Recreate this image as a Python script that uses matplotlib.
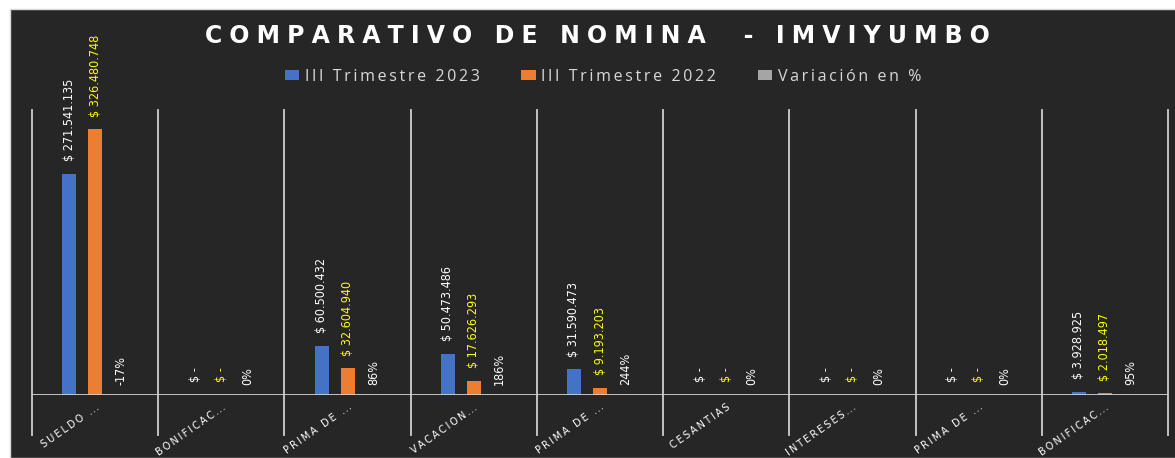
import matplotlib.pyplot as plt
import matplotlib.transforms as mtransforms
from matplotlib.patches import Rectangle
import numpy as np

# data
categorias = ["SUELDO ...", "BONIFICAC...", "PRIMA DE ...", "VACACION...", "PRIMA DE ...",
              "CESANTIAS", "INTERESES...", "PRIMA DE ...", "BONIFICAC..."]
trim_2023 = [271541135, 0, 60500432, 50473486, 31590473, 0, 0, 0, 3928925]
trim_2022 = [326480748, 0, 32604940, 17626293, 9193203, 0, 0, 0, 2018497]
variacion = [-17, 0, 86, 186, 244, 0, 0, 0, 95]
series = ["III Trimestre 2023", "III Trimestre 2022", "Variación en %"]

bg = "#262626"
blue = "#4472C4"
orange = "#ED7D31"
gray = "#A5A5A5"
grid_c = "#CFCFCF"

def spaced(s, sep="\u2009"):
    return sep.join(s)

def cat_label(s):
    # letter spacing on the words, compact dots
    if s.endswith("..."):
        return spaced(s[:-3]) + "\u2009" + "\u200a".join("...")
    return spaced(s)

fig = plt.figure(figsize=(11.75, 4.58), dpi=100)
fig.patch.set_facecolor("white")
fig.patches.append(Rectangle((10 / 1175, 0), 1, 449 / 458, transform=fig.transFigure,
                             facecolor=bg, edgecolor="#D9D9D9", linewidth=1, zorder=-10))

ax = fig.add_axes([32 / 1175, 63 / 458, 1136 / 1175, 285 / 458])
ax.set_facecolor("none")
for s in ax.spines.values():
    s.set_visible(False)

x = np.arange(len(categorias))
off = 0.206
w = 0.111
ax.bar(x - off, trim_2023, w, color=blue, label=spaced(series[0]))
ax.bar(x, trim_2022, w, color=orange, label=spaced(series[1]))
ax.bar(x + off, np.array(variacion) / 100, w, color=gray, label=spaced(series[2]))

ax.set_xlim(-0.5, len(categorias) - 0.5)
ax.set_ylim(0, 350e6)
ax.set_xticks([])
ax.set_yticks([])

def peso(v):
    if v == 0:
        return "$ -"
    return "$ " + f"{v:,}".replace(",", ".")

lab = dict(rotation=90, ha="center", va="bottom", fontsize=9,
           family="DejaVu Sans", fontstretch="condensed", textcoords="offset points")
for i in range(len(categorias)):
    ax.annotate(peso(trim_2023[i]), (x[i] - off, trim_2023[i]), xytext=(0, 9),
                color="white", **lab)
    ax.annotate(peso(trim_2022[i]), (x[i], trim_2022[i]), xytext=(0, 9),
                color="#FFFF00", **lab)
    ax.annotate(f"{variacion[i]}%", (x[i] + off, 0), xytext=(0, 7),
                color="white", **lab)

# separators and baseline
trans = mtransforms.blended_transform_factory(ax.transData, ax.transAxes)
for xs in np.arange(-0.5, len(categorias), 1.0):
    ax.plot([xs, xs], [-0.14, 1.0], color=grid_c, lw=1.3, transform=trans, clip_on=False, zorder=0)
ax.axhline(0, color=grid_c, lw=1.3, zorder=3)

# category labels
for i, c in enumerate(categorias):
    ax.text(x[i], -0.025, cat_label(c), transform=trans, rotation=35, rotation_mode="anchor",
            ha="right", va="top", color="white", fontsize=7)

title = spaced("COMPARATIVO DE NOMINA  - IMVIYUMBO", "\u2009\u200a")
fig.text(597 / 1175, 1 - 36 / 458, title, ha="center", va="center", color="white",
         fontsize=17, fontweight="bold", family="DejaVu Sans")

fig.legend(loc="center", bbox_to_anchor=(603 / 1175, 1 - 77 / 458), ncol=3, frameon=False,
           labelcolor="#D9D9D9", handlelength=0.9, handleheight=0.6,
           handletextpad=0.35, columnspacing=2.6,
           prop={"family": ["Open Sans", "DejaVu Sans"], "size": 11.5})

fig.savefig("out.png", dpi=100, facecolor=fig.get_facecolor())
